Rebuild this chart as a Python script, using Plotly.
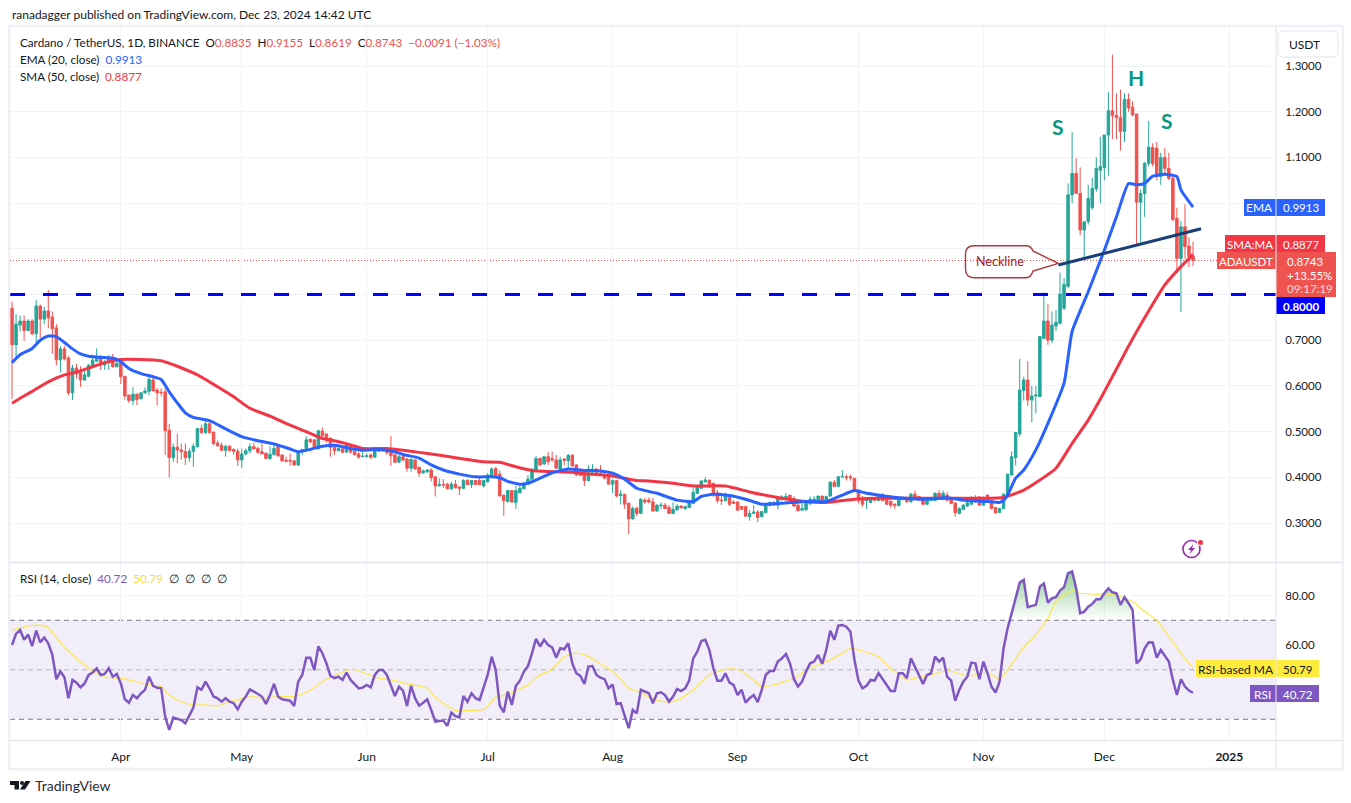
import pandas as pd
import plotly.graph_objects as go

W, H = 1351, 803
START = "2024-03-05"

open_ = [
 .770,.690,.733,.742,.721,.742,.714,.775,.746,.764,.751,.727,.657,.681,.661,.585,.639,.630,.613,.621,
 .644,.654,.665,.646,.651,.662,.642,.651,.621,.580,.568,.582,.572,.585,.588,.613,.591,.586,.587,.503,
 .443,.466,.460,.456,.443,.457,.467,.507,.498,.517,.499,.475,.470,.459,.468,.461,.457,.438,.451,.458,
 .467,.463,.456,.453,.441,.450,.468,.449,.437,.437,.436,.427,.456,.461,.483,.482,.463,.501,.495,.486,
 .467,.458,.462,.455,.471,.457,.451,.445,.445,.449,.444,.457,.461,.463,.458,.449,.433,.445,.440,.420,
 .438,.422,.410,.412,.416,.401,.381,.384,.385,.375,.385,.379,.376,.393,.384,.393,.393,.381,.390,.401,
 .419,.407,.361,.347,.371,.345,.366,.375,.385,.396,.413,.441,.429,.445,.441,.438,.418,.440,.436,.448,
 .427,.416,.409,.393,.411,.418,.409,.405,.401,.385,.393,.360,.363,.343,.309,.332,.321,.350,.350,.346,
 .326,.338,.339,.334,.321,.329,.337,.332,.334,.343,.365,.376,.390,.394,.387,.366,.350,.349,.356,.346,
 .346,.336,.336,.314,.321,.324,.314,.323,.338,.344,.339,.351,.351,.361,.354,.339,.328,.329,.342,.350,
 .350,.359,.345,.359,.389,.380,.401,.401,.401,.398,.372,.354,.349,.345,.354,.349,.359,.352,.347,.341,
 .338,.352,.352,.347,.363,.358,.354,.341,.349,.349,.365,.352,.361,.354,.344,.321,.330,.337,.341,.356,
 .357,.339,.361,.349,.334,.323,.332,.361,.405,.443,.495,.590,.613,.569,.578,.577,.704,.742,.700,.731,
 .737,.770,.818,1.018,1.065,1.021,.941,.960,.990,1.031,1.072,1.078,1.149,1.202,1.192,1.187,1.157,1.227,1.210,1.195,
 1.002,1.021,1.087,1.122,1.120,1.058,1.100,1.076,1.054,.967,.879,.948,.906,.8835]
high = [
 .784,.757,.754,.754,.746,.746,.788,.778,.773,.810,.763,.735,.687,.687,.665,.646,.648,.643,.635,.648,
 .668,.682,.666,.657,.668,.670,.655,.657,.622,.580,.597,.584,.585,.597,.624,.622,.595,.595,.595,.517,
 .474,.495,.474,.474,.463,.474,.507,.514,.524,.524,.499,.481,.476,.471,.470,.463,.463,.463,.463,.474,
 .476,.467,.474,.453,.467,.474,.470,.449,.445,.452,.438,.458,.462,.490,.485,.483,.504,.509,.495,.486,
 .469,.465,.465,.474,.471,.457,.455,.455,.452,.452,.463,.465,.466,.466,.490,.451,.449,.452,.442,.442,
 .439,.423,.417,.418,.420,.403,.398,.396,.388,.390,.394,.379,.396,.396,.394,.394,.403,.394,.409,.422,
 .422,.415,.361,.372,.372,.381,.381,.390,.405,.418,.447,.444,.447,.456,.456,.449,.445,.442,.451,.451,
 .429,.420,.412,.427,.429,.420,.427,.409,.405,.396,.393,.372,.363,.345,.336,.336,.354,.355,.356,.355,
 .341,.345,.344,.339,.345,.341,.338,.337,.345,.376,.378,.393,.400,.394,.387,.372,.361,.367,.359,.349,
 .347,.337,.336,.328,.339,.328,.326,.343,.347,.348,.358,.361,.365,.361,.358,.343,.343,.347,.358,.359,
 .359,.359,.360,.392,.394,.403,.416,.406,.406,.398,.374,.359,.351,.357,.356,.360,.366,.353,.349,.343,
 .355,.357,.357,.366,.371,.359,.356,.352,.355,.367,.372,.371,.368,.354,.344,.334,.341,.346,.358,.361,
 .359,.358,.362,.350,.335,.333,.365,.407,.457,.499,.659,.620,.654,.600,.600,.708,.805,.780,.763,.766,
 .848,.836,1.043,1.155,1.098,1.078,.960,1.040,1.055,1.100,1.145,1.149,1.243,1.325,1.240,1.248,1.240,1.240,1.223,1.195,
 1.030,1.090,1.180,1.131,1.134,1.110,1.120,1.110,1.060,.990,.961,.997,.925,.9155]
low = [
 .572,.665,.719,.699,.720,.711,.693,.705,.735,.726,.670,.645,.629,.656,.580,.569,.616,.598,.611,.620,
 .644,.652,.635,.635,.635,.640,.640,.604,.570,.563,.558,.558,.570,.583,.580,.589,.558,.577,.449,.399,
 .434,.431,.438,.427,.434,.423,.465,.495,.495,.496,.470,.467,.459,.445,.458,.449,.425,.420,.448,.452,
 .462,.451,.451,.440,.438,.447,.445,.435,.433,.425,.426,.425,.449,.459,.474,.463,.460,.489,.476,.445,
 .449,.458,.453,.455,.452,.449,.441,.444,.444,.440,.443,.456,.457,.449,.425,.432,.432,.434,.412,.412,
 .417,.401,.407,.410,.391,.358,.381,.377,.374,.372,.376,.361,.374,.383,.377,.383,.383,.378,.389,.399,
 .403,.359,.316,.345,.345,.331,.365,.374,.384,.394,.411,.425,.428,.427,.434,.420,.416,.427,.416,.423,
 .403,.403,.381,.391,.411,.405,.405,.396,.385,.366,.356,.341,.331,.276,.308,.315,.320,.342,.343,.326,
 .325,.331,.330,.320,.320,.327,.332,.328,.333,.341,.363,.375,.388,.377,.357,.343,.339,.347,.337,.342,
 .327,.328,.315,.305,.320,.302,.312,.321,.337,.338,.330,.349,.349,.349,.336,.326,.328,.327,.340,.347,
 .350,.342,.343,.358,.380,.378,.398,.393,.393,.368,.343,.336,.331,.344,.347,.348,.347,.340,.334,.331,
 .337,.350,.344,.344,.350,.349,.339,.340,.348,.348,.356,.350,.347,.341,.314,.319,.328,.336,.340,.344,
 .338,.338,.345,.330,.321,.322,.330,.360,.404,.426,.489,.568,.556,.520,.540,.575,.702,.690,.694,.720,
 .735,.766,.814,1.000,1.020,.930,.877,.953,.985,1.025,1.000,1.050,1.060,1.140,1.140,1.115,1.134,1.200,1.190,.910,
 .913,.970,1.080,1.080,1.050,1.040,1.060,1.050,.960,.855,.762,.878,.860,.8619]
close = [
 .690,.735,.742,.721,.742,.714,.775,.746,.764,.749,.725,.657,.681,.659,.585,.639,.626,.613,.624,.645,
 .656,.665,.646,.651,.662,.642,.649,.620,.578,.568,.582,.570,.585,.589,.614,.589,.585,.585,.502,.443,
 .466,.460,.456,.443,.457,.468,.507,.498,.517,.498,.474,.469,.459,.468,.458,.457,.438,.451,.458,.467,
 .462,.455,.451,.441,.450,.463,.447,.436,.435,.435,.427,.456,.461,.482,.478,.463,.502,.491,.483,.465,
 .458,.463,.455,.471,.455,.449,.444,.446,.447,.444,.460,.463,.458,.454,.447,.433,.445,.438,.420,.439,
 .418,.409,.414,.416,.399,.381,.384,.383,.375,.385,.377,.376,.393,.384,.393,.384,.384,.393,.405,.418,
 .404,.359,.349,.371,.346,.371,.376,.385,.396,.418,.441,.427,.445,.434,.438,.420,.438,.437,.448,.425,
 .405,.404,.393,.418,.418,.406,.405,.398,.385,.393,.359,.363,.341,.309,.332,.321,.352,.346,.346,.326,
 .339,.339,.332,.321,.330,.337,.333,.336,.344,.367,.378,.392,.394,.379,.363,.349,.349,.359,.341,.343,
 .328,.330,.315,.321,.324,.312,.325,.339,.345,.339,.354,.357,.358,.351,.337,.327,.332,.343,.352,.352,
 .359,.343,.358,.389,.380,.401,.402,.399,.399,.370,.350,.341,.350,.355,.350,.358,.349,.341,.339,.339,
 .354,.355,.347,.363,.352,.350,.341,.350,.354,.365,.358,.365,.350,.343,.323,.332,.339,.344,.356,.347,
 .339,.355,.347,.332,.322,.332,.363,.407,.445,.498,.591,.613,.569,.578,.580,.708,.742,.700,.733,.739,
 .801,.822,1.018,1.065,1.021,.941,.959,1.010,1.032,1.076,1.080,1.149,1.202,1.191,1.187,1.157,1.227,1.208,1.193,1.002,
 1.021,1.087,1.122,1.086,1.058,1.100,1.076,1.054,.964,.879,.948,.905,.883,.8743]

ema_days = [1,3,6,8,10,12,14,16,18,20,24,26,28,30,33,36,38,40,42,44,46,50,54,58,62,66,70,72,75,78,81,85,88,92,95,98,
            102,105,108,112,116,120,122,124,127,129,132,135,139,143,147,150,153,156,159,161,166,170,172,175,179,183,
            187,192,198,203,207,210,213,216,221,227,233,238,243,246,247,248,249,250,252,255,258,262,264,268,272,275,
            278,280,282,284,287,290,291,294]
ema_vals = [.651,.668,.682,.700,.709,.708,.695,.681,.670,.665,.662,.661,.653,.638,.627,.620,.614,.587,.563,.541,.531,.524,.506,.489,.480,.473,.462,.456,.461,.468,.470,.463,.459,.461,.458,.450,
            .442,.427,.416,.407,.401,.401,.399,.391,.385,.387,.398,.410,.418,.415,.414,.409,.396,.376,.369,.365,.350,.347,.358,.363,.360,.352,
            .341,.343,.347,.347,.361,.371,.365,.361,.355,.352,.355,.349,.347,.345,.350,.361,.380,.398,.416,.460,.518,.606,.719,.806,.897,.970,
            1.043,1.040,1.043,1.059,1.063,1.058,1.029,.9913]
sma_days = [1,3,6,10,14,18,21,24,28,33,38,42,47,52,56,60,65,70,74,78,81,85,88,94,99,105,111,118,122,126,130,136,140,144,149,153,156,159,
            165,170,178,184,192,198,203,210,215,223,233,242,247,252,256,260,264,268,272,278,282,287,291,294]
sma_vals = [.562,.573,.588,.609,.624,.633,.642,.651,.658,.658,.655,.643,.624,.598,.576,.551,.534,.514,.500,.485,.480,.471,.463,.463,.458,.451,.443,.434,.433,.423,.415,.412,.411,.407,.404,.398,.393,.392,
            .387,.381,.381,.368,.354,.347,.345,.352,.354,.354,.354,.354,.356,.372,.394,.420,.474,.525,.587,.687,.749,.821,.861,.8877]

rsi_vals = [
 60.0,64.5,66.1,62.1,64.2,59.6,65.8,61.1,63.0,60.7,56.0,46.2,49.3,47.0,38.5,45.9,44.8,42.9,44.5,47.9,
 48.9,50.6,47.9,48.3,50.6,47.2,48.3,44.5,38.1,36.7,39.8,38.5,40.5,41.9,47.2,43.5,42.7,42.5,31.1,25.7,
 30.7,30.3,29.7,28.4,31.8,34.7,42.9,41.9,45.2,42.5,39.2,38.5,37.1,38.5,37.1,36.5,34.0,37.1,39.2,42.1,
 41.2,40.1,39.2,36.2,39.8,44.3,39.2,38.1,37.8,37.5,35.4,45.2,47.9,54.9,54.9,49.9,59.4,56.7,52.6,47.5,
 46.6,47.2,45.9,48.9,45.9,44.3,42.5,42.8,43.9,42.9,47.9,49.9,49.9,47.9,43.9,39.4,43.2,41.6,35.4,43.5,
 38.5,35.5,36.7,38.1,33.8,29.1,29.3,29.5,27.3,
 32.7,31.3,30.8,39.4,37.1,40.5,38.5,37.8,42.5,47.9,55.3,49.9,35.5,32.8,41.2,35.8,43.5,45.6,49.3,51.5,
 56.7,62.5,59.4,62.1,60.0,59.1,54.9,58.7,58.3,60.7,52.6,48.6,47.5,44.3,51.3,51.5,47.9,46.8,46.2,42.5,
 44.1,36.2,36.5,31.8,26.4,33.8,32.4,41.9,41.2,40.5,36.5,40.5,40.9,39.8,37.1,39.2,42.3,41.4,42.5,45.6,
 54.6,57.3,61.6,62.1,58.0,50.6,45.6,45.6,48.6,44.8,43.9,39.8,41.9,36.7,38.5,39.8,36.9,41.9,47.9,49.5,
 49.5,53.3,54.6,56.4,52.6,46.2,43.2,45.2,49.3,52.6,53.3,56.0,52.4,58.0,65.8,62.1,67.8,68.1,67.4,65.4,
 54.0,45.6,42.5,43.5,45.9,45.6,48.6,46.2,43.9,41.4,41.4,
 48.6,48.6,46.6,54.6,51.5,47.9,44.3,47.9,48.6,55.3,53.3,54.9,47.2,45.6,37.5,41.9,45.2,47.2,52.9,52.6,
 46.2,53.3,48.6,43.2,40.8,45.2,58.7,66.8,72.8,79.6,85.2,86.3,75.3,75.8,76.2,83.6,84.9,77.1,78.9,79.3,
 82.0,83.3,89.0,89.7,82.9,72.8,73.5,75.5,76.6,78.5,78.5,80.9,82.9,81.3,80.9,76.2,79.3,76.9,74.2,52.6,
 54.2,58.7,61.1,61.0,54.9,58.0,55.6,53.3,45.9,39.8,46.2,43.2,41.6,40.72]
rsi_ma_days = [1,3,5,8,10,12,14,16,19,21,24,26,28,31,34,38,40,43,46,49,52,55,57,60,63,67,71,74,76,79,81,84,86,89,92,95,99,104,106,109,
               111,114,118,119,121,124,126,129,132,134,135,138,141,144,147,150,152,154,157,160,164,167,170,174,178,181,184,187,190,195,199,204,207,209,211,216,218,221,
               223,226,229,233,238,243,246,248,252,255,258,260,264,266,270,274,279,282,285,288,292,294]
rsi_ma_vals = [66.1,66.8,67.7,68.0,67.0,63.0,59.1,56.0,52.0,49.5,47.2,46.7,46.6,45.5,44.3,43.1,39.8,37.1,35.8,35.8,35.4,37.1,37.8,39.4,38.5,39.2,39.2,40.9,42.9,46.2,47.6,49.7,50.2,48.3,46.6,45.9,44.3,42.5,38.9,35.4,
               33.6,33.5,34.0,35.4,38.9,40.1,41.6,43.9,47.9,49.3,50.2,55.3,56.7,55.3,52.4,49.3,46.2,42.5,40.8,38.1,36.9,38.5,41.9,47.9,50.2,50.2,47.2,43.2,43.9,46.6,50.6,54.0,56.7,58.6,58.0,55.3,52.0,47.9,
               45.9,47.0,47.9,49.7,47.5,48.6,46.3,49.9,59.1,64.1,70.8,77.5,81.9,80.9,80.5,80.5,77.5,73.5,70.1,63.4,54.6,50.79]

neck_days = [260.6, 296]
neck_vals = [.8645, .944]
key_level = 0.80
last_close = 0.8743
month_ticks = ["2024-04-01","2024-05-01","2024-06-01","2024-07-01","2024-08-01","2024-09-01","2024-10-01","2024-11-01","2024-12-01","2025-01-01"]
month_labels = ["Apr","May","Jun","Jul","Aug","Sep","Oct","Nov","Dec","<b>2025</b>"]
price_ticks = [.3,.4,.5,.6,.7,.8,.9,1.0,1.1,1.2,1.3]
price_labels = ["0.3000","0.4000","0.5000","0.6000","0.7000","","","","1.1000","1.2000","1.3000"]
rsi_ticks = [40,60,80]
rsi_labels = ["","60.00","80.00"]

assert len(open_)==len(high)==len(low)==len(close)==len(rsi_vals)==294

dates = pd.date_range(START, periods=len(close), freq="D")
def day(n):
    return pd.Timestamp(START) + pd.to_timedelta(n-1, unit="D")
def days(lst):
    return [day(n) for n in lst]

UP, DOWN = "#26A69A", "#EF5350"
BLUE, RED, PURPLE, YELLOW = "#2962FF", "#F23645", "#7E57C2", "#FFEB3B"
GRID, BORDER, TXT = "#F0F3FA", "#E0E3EB", "#131722"
FONT = "Lato"
FS = 12
FN = 11.5

X0, X1, M0, M1, R0, R1 = 10, 1276, 27, 562, 563, 740
def fx(x): return x / W
def fy(y): return 1 - y / H

fig = go.Figure()
fig.add_trace(go.Candlestick(x=dates, open=open_, high=high, low=low, close=close, xaxis="x", yaxis="y",
    increasing=dict(line=dict(color=UP, width=1), fillcolor=UP),
    decreasing=dict(line=dict(color=DOWN, width=1), fillcolor=DOWN),
    whiskerwidth=0, hoverinfo="skip", showlegend=False))
fig.add_trace(go.Scatter(x=days(sma_days), y=sma_vals, mode="lines", line=dict(color=RED, width=3, shape="spline", smoothing=0.5),
                         xaxis="x", yaxis="y", hoverinfo="skip", showlegend=False))
fig.add_trace(go.Scatter(x=days(ema_days), y=ema_vals, mode="lines", line=dict(color=BLUE, width=3, shape="spline", smoothing=0.5),
                         xaxis="x", yaxis="y", hoverinfo="skip", showlegend=False))
fig.add_trace(go.Scatter(x=days(neck_days), y=neck_vals, mode="lines", line=dict(color="#1A3E78", width=3),
                         xaxis="x", yaxis="y", hoverinfo="skip", showlegend=False))

# RSI pane
fig.add_trace(go.Scatter(x=dates, y=[70]*len(dates), mode="lines", line=dict(width=0), xaxis="x2", yaxis="y2",
                         hoverinfo="skip", showlegend=False))
fig.add_trace(go.Scatter(x=dates, y=[max(v, 70) for v in rsi_vals], mode="lines", line=dict(width=0), fill="tonexty",
                         fillgradient=dict(type="vertical", colorscale=[[0, "rgba(76,175,80,0)"], [1, "rgba(76,175,80,0.6)"]], start=70, stop=90),
                         xaxis="x2", yaxis="y2", hoverinfo="skip", showlegend=False))
fig.add_trace(go.Scatter(x=days(rsi_ma_days), y=rsi_ma_vals, mode="lines", line=dict(color="#FDE74C", width=1.2, shape="spline", smoothing=0.6),
                         xaxis="x2", yaxis="y2", hoverinfo="skip", showlegend=False))
fig.add_trace(go.Scatter(x=dates, y=rsi_vals, mode="lines", line=dict(color=PURPLE, width=2.5), xaxis="x2", yaxis="y2",
                         hoverinfo="skip", showlegend=False))

shapes, annos = [], []
def rect(x0, y0, x1, y1, color, line=None, width=1, layer="above"):
    shapes.append(dict(type="rect", xref="paper", yref="paper", x0=fx(x0), x1=fx(x1), y0=fy(y0), y1=fy(y1),
                       fillcolor=color, line=dict(color=line or color, width=width if line else 0), layer=layer))
def hline(x0, y0, x1, y1, color, width=1, layer="above"):
    shapes.append(dict(type="line", xref="paper", yref="paper", x0=fx(x0), x1=fx(x1), y0=fy(y0), y1=fy(y1),
                       line=dict(color=color, width=width), layer=layer))
def text(x, y, s, size=FS, color=TXT, anchor="left", family=FONT):
    annos.append(dict(xref="paper", yref="paper", x=fx(x), y=fy(y), text=s, showarrow=False, xanchor=anchor, yanchor="middle",
                      font=dict(size=size, color=color, family=family), align=anchor))
def path(points, close_=True):
    d = ""
    for cmd, *pts in points:
        d += cmd + " ".join(f"{fx(pts[i]):.5f},{fy(pts[i+1]):.5f}" for i in range(0, len(pts), 2))
    return d + ("Z" if close_ else "")

# RSI band and levels
shapes.append(dict(type="rect", xref="x2 domain", yref="y2", x0=0, x1=1, y0=30, y1=70, fillcolor="rgba(126,87,194,0.1)", line=dict(width=0), layer="below"))
for lvl, col in [(70, "#787B86"), (50, "rgba(120,123,134,0.5)"), (30, "#787B86")]:
    shapes.append(dict(type="line", xref="x2 domain", yref="y2", x0=0, x1=1, y0=lvl, y1=lvl, line=dict(color=col, width=1, dash="5px,4px"), layer="below"))
# price levels
shapes.append(dict(type="line", xref="x domain", yref="y", x0=0, x1=1, y0=last_close, y1=last_close, line=dict(color=DOWN, width=1, dash="1px,2px"), layer="below"))
shapes.append(dict(type="line", xref="x domain", yref="y", x0=0, x1=1, y0=key_level, y1=key_level, line=dict(color="#0000FF", width=3, dash="15px,18px"), layer="above"))

# frame
for a in [(9, 26, 1343, 26), (9, 26, 9, 769), (9, 769, 1343, 769), (1343, 26, 1343, 769)]:
    hline(*a, color="#EEF0F6", width=2.5)
hline(X0, 562.5, 1342, 562.5, BORDER, 1.5)
hline(X0, 740.5, 1342, 740.5, BORDER, 1)
hline(1276, 27, 1276, 768, BORDER, 1)

# USDT button
shapes.append(dict(type="path", xref="paper", yref="paper", layer="above", fillcolor="white", line=dict(color=BORDER, width=1),
    path=path([("M",1283,31),("L",1333,31),("Q",1338,31,1338,36),("L",1338,52),("Q",1338,57,1333,57),("L",1283,57),("Q",1278,57,1278,52),("L",1278,36),("Q",1278,31,1283,31)])))
text(1304, 44.5, "USDT", FS, anchor="center")

# Axis labels
def tag(x0, x1, y0, y1, color, label, value, lcolor="white", lsize=FS):
    rect(x0, y0, 1275.5, y1, color)
    rect(1276.5, y0, x1, y1, color)
    text((x0+1275.5)/2, (y0+y1)/2+0.5, label, lsize, lcolor, "center")
    text((1276.5+x1)/2, (y0+y1)/2+0.5, value, FN, lcolor, "center")
tag(1244, 1325, 199, 216, BLUE, "EMA", "0.9913")
tag(1225, 1325, 235, 252, RED, "SMA:MA", "0.8877", lsize=11.5)
rect(1217, 252, 1275.5, 269, DOWN)
rect(1276.5, 252, 1336, 297, DOWN)
text(1246, 261, "ADAUSDT", 11.5, "white", "center")
text(1285, 261, "0.8743", FN, "white")
text(1285, 275, "+13.55%", FN, "white")
text(1285, 288.5, "09:17:19", FN, "rgba(255,255,255,0.8)")
rect(1276.5, 297, 1325, 314, "#0000FF")
text(1301, 306, "<b>0.8000</b>", FN, "white", "center")
tag(1196, 1319, 660, 677, YELLOW, "RSI-based MA", "50.79", TXT)
tag(1250, 1319, 685, 702, PURPLE, "RSI", "40.72")

# Neckline callout
NK = "#A83A3F"
shapes.append(dict(type="path", xref="paper", yref="paper", layer="above", line=dict(color=NK, width=1.4), fillcolor="rgba(0,0,0,0)",
    path=path([("M",974,245.7),("L",1026,245.7),("Q",1031,245.7,1033,251),("L",1058.3,263.3),("L",1033,271),("Q",1031,277.7,1026,277.7),
               ("L",974,277.7),("Q",965.5,277.7,965.5,269),("L",965.5,254),("Q",965.5,245.7,974,245.7)])))
text(999.5, 261.5, "Neckline", 12.5, "#9C2228", "center")

# S H S labels
text(1058, 127, "<b>S</b>", 21, "#089981", "center")
text(1136, 78, "<b>H</b>", 21, "#089981", "center")
text(1167, 121, "<b>S</b>", 21, "#089981", "center")

# Header text
text(10, 15, "ranadagger published on TradingView.com, Dec 23, 2024 14:42 UTC", FS)
r = DOWN
text(18, 42, f'Cardano / TetherUS, 1D, BINANCE  O<span style="color:{r}">0.8835</span>  H<span style="color:{r}">0.9155</span>  L<span style="color:{r}">0.8619</span>  C<span style="color:{r}">0.8743</span>  <span style="color:{r}">−0.0091 (−1.03%)</span>', 11.7)
text(18, 59, f'EMA (20, close)  <span style="color:{BLUE}">0.9913</span>', 11.7)
text(18, 76, f'SMA (50, close)  <span style="color:{RED}">0.8877</span>', 11.7)
text(18, 578, f'RSI (14, close)  <span style="color:{PURPLE}">40.72</span>  <span style="color:#F5DC3C">50.79</span>  ∅  ∅  ∅  ∅', 11.7)

# Event icon
PUR = "#9C27B0"
cx, cy, rr = 1191.5, 549, 8.5
shapes.append(dict(type="circle", xref="paper", yref="paper", x0=fx(cx-rr), x1=fx(cx+rr), y0=fy(cy+rr), y1=fy(cy-rr), line=dict(color=PUR, width=1.6), layer="above", fillcolor="white"))
shapes.append(dict(type="path", xref="paper", yref="paper", layer="above", fillcolor=PUR, line=dict(width=0),
    path=path([("M",1193.5,544),("L",1188,550),("L",1191,550),("L",1189.5,554),("L",1195,548),("L",1192,548)])))
shapes.append(dict(type="circle", xref="paper", yref="paper", x0=fx(1197.5), x1=fx(1203.5), y0=fy(545.5), y1=fy(539.5), fillcolor="white", line=dict(color="white", width=1.2), layer="above"))
shapes.append(dict(type="circle", xref="paper", yref="paper", x0=fx(1198), x1=fx(1203), y0=fy(545), y1=fy(540), fillcolor=RED, line=dict(width=0), layer="above"))

# TradingView logo
LG = "#131722"
shapes.append(dict(type="path", xref="paper", yref="paper", layer="above", fillcolor=LG, line=dict(width=0),
    path=path([("M",10,781),("L",19,781),("L",19,789.5),("L",14.5,789.5),("L",14.5,785),("L",10,785)])))
shapes.append(dict(type="path", xref="paper", yref="paper", layer="above", fillcolor=LG, line=dict(width=0),
    path=path([("M",25.5,781),("L",30.5,781),("L",25,789.5),("L",20,789.5)])))
shapes.append(dict(type="circle", xref="paper", yref="paper", x0=fx(20), x1=fx(24), y0=fy(785), y1=fy(781), fillcolor=LG, line=dict(width=0), layer="above"))
text(33, 785.5, "TradingView", 14, "#2A2E39")

rng_x = [pd.Timestamp("2024-04-01") - pd.Timedelta(days=27.5), pd.Timestamp("2025-01-12 14:00")]
price_range = [.3 - 39/457, 1.3 + 39/457]
rsi_range = [30 - 20.7/2.475, 80 + 32.5/2.475]

fig.update_layout(
    width=W, height=H, margin=dict(l=0, r=0, t=0, b=0), paper_bgcolor="white", plot_bgcolor="white",
    font=dict(family=FONT, size=FS, color=TXT), showlegend=False, boxgap=0.12, hovermode=False,
    xaxis=dict(domain=[fx(X0), fx(X1)], range=rng_x, anchor="y", tickmode="array", tickvals=month_ticks, showticklabels=False,
               showgrid=True, gridcolor=GRID, gridwidth=1, rangeslider=dict(visible=False), zeroline=False, showline=False, ticks=""),
    yaxis=dict(domain=[fy(M1), fy(M0)], range=price_range, anchor="x", side="right", tickmode="array", tickvals=price_ticks,
               ticktext=price_labels, showgrid=True, gridcolor=GRID, gridwidth=1, zeroline=False, showline=False,
               ticks="outside", ticklen=6, tickcolor="rgba(0,0,0,0)", tickfont=dict(size=FN, color=TXT, family=FONT)),
    xaxis2=dict(domain=[fx(X0), fx(X1)], range=rng_x, anchor="y2", tickmode="array", tickvals=month_ticks, ticktext=month_labels,
                showgrid=True, gridcolor=GRID, gridwidth=1, zeroline=False, showline=False,
                ticks="outside", ticklen=6, tickcolor="rgba(0,0,0,0)", tickfont=dict(size=FS, color=TXT, family=FONT)),
    yaxis2=dict(domain=[fy(R1), fy(R0)], range=rsi_range, anchor="x2", side="right", tickmode="array", tickvals=rsi_ticks,
                ticktext=rsi_labels, showgrid=True, gridcolor=GRID, gridwidth=1, zeroline=False, showline=False,
                ticks="outside", ticklen=6, tickcolor="rgba(0,0,0,0)", tickfont=dict(size=FN, color=TXT, family=FONT)),
    shapes=shapes, annotations=annos,
)

fig.write_html("out.html", config={"displayModeBar": False},
               post_script="document.body.style.margin='0';document.body.style.overflow='hidden';")
